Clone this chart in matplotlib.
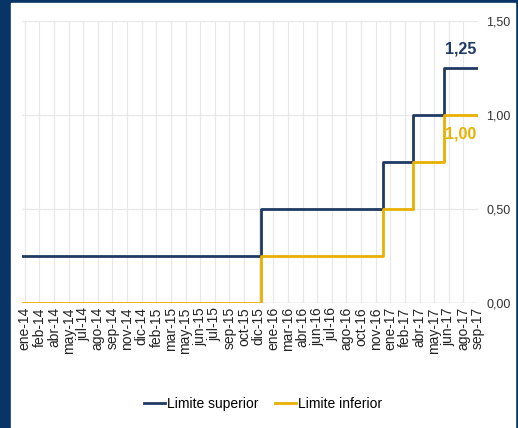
# Limites del rango objetivo de la tasa de fondos federales, 2014-2017
import numpy as np
import matplotlib
matplotlib.use('Agg')
import matplotlib.pyplot as plt
import matplotlib.dates as mdates
from datetime import datetime

# datos: fechas de cambio y niveles (en %)
fechas = ['2014-01-01', '2015-12-16', '2016-12-14', '2017-03-15', '2017-06-14', '2017-09-24']
superior = [0.25, 0.50, 0.75, 1.00, 1.25, 1.25]
inferior = [0.00, 0.25, 0.50, 0.75, 1.00, 1.00]

etiquetas = ['ene-14', 'feb-14', 'abr-14', 'may-14', 'jul-14', 'ago-14', 'sep-14', 'nov-14',
             'dic-14', 'feb-15', 'mar-15', 'may-15', 'jun-15', 'jul-15', 'sep-15', 'oct-15',
             'dic-15', 'ene-16', 'mar-16', 'abr-16', 'jun-16', 'jul-16', 'ago-16', 'oct-16',
             'nov-16', 'ene-17', 'feb-17', 'abr-17', 'may-17', 'jun-17', 'ago-17', 'sep-17']

azul = '#1f3a64'
oro = '#e8b000'
fondo = '#073566'
narrow = ['Liberation Sans Narrow', 'Liberation Sans', 'DejaVu Sans']

x = mdates.date2num([datetime.strptime(f, '%Y-%m-%d') for f in fechas])

fig = plt.figure(figsize=(5.18, 4.28), dpi=100, facecolor=fondo)
# panel blanco
panel = plt.Rectangle((11/518, 0), (515-11)/518, (428-3)/428,
                      transform=fig.transFigure, color='white', zorder=-5)
fig.add_artist(panel)

ax = fig.add_axes([22/518, 1 - 303/428, (478-22)/518, (303-21)/428])
ax.set_facecolor('white')

ax.step(x, superior, where='post', color=azul, lw=2.0, label='Limite superior', zorder=3)
ax.step(x, inferior, where='post', color=oro, lw=2.0, label='Limite inferior', zorder=3)

ax.set_xlim(x[0], x[-1])
ax.set_ylim(0, 1.5)

ticks = np.linspace(x[0] + 8, x[-1], len(etiquetas))
ax.set_xticks(ticks)
ax.set_xticklabels(etiquetas, rotation=90, fontsize=10, color='#222222',
                   family=['Liberation Sans', 'DejaVu Sans'])
ax.tick_params(axis='x', length=0, pad=3)

ax.yaxis.tick_right()
ax.set_yticks([0, 0.5, 1.0, 1.5])
ax.set_yticklabels(['0,00', '0,50', '1,00', '1,50'], fontsize=9, color='#333333',
                   family=narrow)
ax.tick_params(axis='y', length=0, pad=6)

ax.grid(True, color='#e8e8e8', lw=0.9)
ax.set_axisbelow(True)
for s in ax.spines.values():
    s.set_visible(False)
ax.axhline(0, color='#d0d0d0', lw=1, zorder=1)

ax.text(x[-1] - 5, superior[-1] + 0.06, '1,25', color=azul, fontsize=11.5,
        fontweight='bold', ha='right', va='bottom', family=narrow)
ax.text(x[-1] - 5, inferior[-1] - 0.06, '1,00', color=oro, fontsize=11.5,
        fontweight='bold', ha='right', va='top', family=narrow)

fig.legend(loc='center', bbox_to_anchor=(263/518, 1 - 404/428), ncol=2, frameon=False,
           handlelength=1.5, handletextpad=0.15, columnspacing=1.2,
           prop={'family': narrow, 'size': 10})

fig.savefig('out.png', dpi=100, facecolor=fondo)
